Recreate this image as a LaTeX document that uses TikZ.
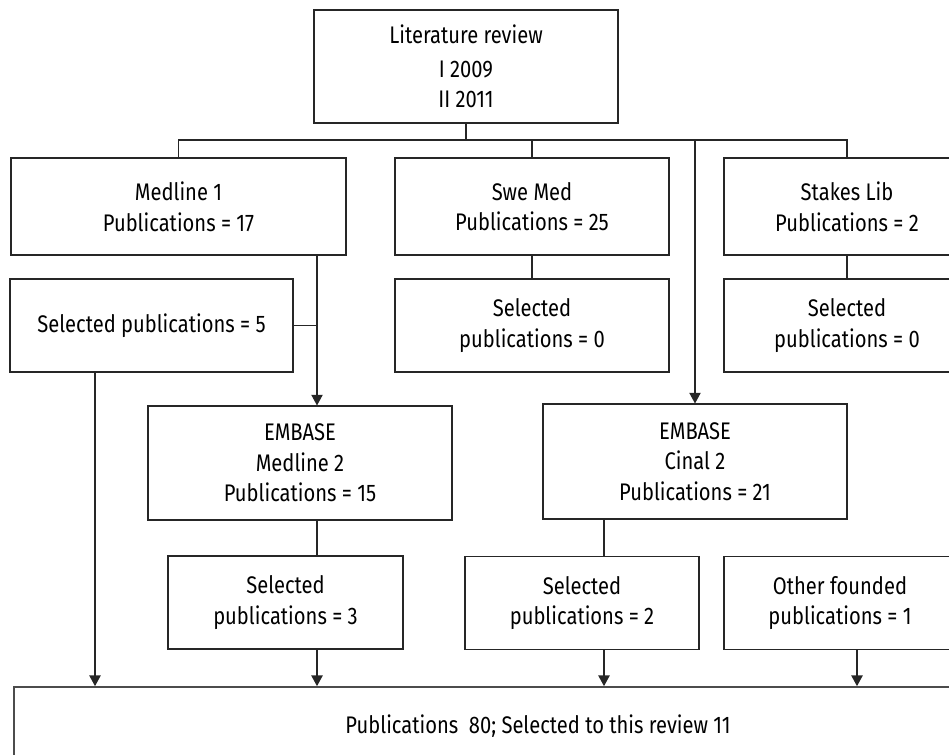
\documentclass[tikz,border=0pt]{standalone}
\usepackage{fontspec}
\setmainfont{Fira Sans}[FakeStretch=0.84]
\usetikzlibrary{arrows.meta}
\tikzset{
	box/.style={draw=black!85, line width=0.8pt, align=center, inner sep=0pt,
		font=\fontsize{18pt}{23pt}\selectfont},
	link/.style={draw=black!85, line width=0.8pt},
	arr/.style={link, -{Triangle[length=8pt,width=8.5pt]}}
}
\begin{document}
\begin{tikzpicture}[x=0.75pt, y=-0.75pt]
		\useasboundingbox (0,0) rectangle (949,754);
		\clip (0,0) rectangle (949,754);
		% first row
		\node[box, minimum width=228pt, minimum height=84.75pt] (review) at (466,66.5) {Literature review\\[2pt]I 2009\\II 2011};
		\node[box, minimum width=251.25pt, minimum height=72.75pt] (med1) at (178.5,206.5) {Medline 1\\Publications = 17};
		\node[box, minimum width=205.5pt, minimum height=72.75pt] (swemed) at (532,206.5) {Swe Med\\Publications = 25};
		\node[box, minimum width=184.5pt, minimum height=72.75pt] (stakes) at (847,206.5) {Stakes Lib\\Publications = 2};
		% selections
		\node[box, minimum width=212.25pt, minimum height=69.75pt] (sel5) at (151.5,325.5) {Selected publications = 5};
		\node[box, minimum width=205.5pt, minimum height=69.75pt] (selswe) at (532,325.5) {Selected\\publications = 0};
		\node[box, minimum width=184.5pt, minimum height=69.75pt] (selstakes) at (847,325.5) {Selected\\publications = 0};
		% embase
		\node[box, minimum width=228pt, minimum height=85.5pt] (emb1) at (300,463) {EMBASE\\Medline 2\\Publications = 15};
		\node[box, minimum width=228pt, minimum height=86.25pt] (emb2) at (695,461.5) {EMBASE\\Cinal 2\\Publications = 21};
		\node[box, minimum width=176.25pt, minimum height=69.75pt] (sel3) at (285.5,602.5) {Selected\\publications = 3};
		\node[box, minimum width=175.5pt, minimum height=69.75pt] (sel2) at (582,603) {Selected\\publications = 2};
		\node[box, minimum width=174pt, minimum height=69.75pt] (other) at (840,603) {Other founded\\publications = 1};
		% result
		\node[box, line width=1.3pt, draw=black!70, minimum width=786pt, minimum height=58.5pt] (total) at (538,726) {Publications\ \ 80; Selected to this review 11};
		% helper points
		\coordinate (bus) at (466,140);
		\coordinate (j1) at (317,325.5);
		\coordinate (a1) at (95,0);
		\coordinate (a2) at (317,0);
		\coordinate (a3) at (604,0);
		\coordinate (a4) at (857,0);
		\draw[link] (review) -- (bus);
		\draw[link] (med1.north) |- (bus) -| (stakes.north);
		\draw[link] (swemed.north) -- (swemed.north |- bus);
		\draw[arr] (bus -| emb2.north) -- (emb2.north);
		\draw[link] (swemed) -- (selswe);
		\draw[link] (stakes) -- (selstakes);
		\draw[arr] (med1.south -| j1) -- (emb1.north -| j1);
		\draw[link] (sel5.east) -- (j1);
		\draw[link] (emb1.south -| j1) -- (sel3.north -| j1);
		\draw[link] (emb2.south -| a3) -- (sel2.north -| a3);
		\draw[arr] (sel5.south -| a1) -- (total.north -| a1);
		\draw[arr] (sel3.south -| a2) -- (total.north -| a2);
		\draw[arr] (sel2.south -| a3) -- (total.north -| a3);
		\draw[arr] (other.south -| a4) -- (total.north -| a4);
	\end{tikzpicture}
\end{document}
